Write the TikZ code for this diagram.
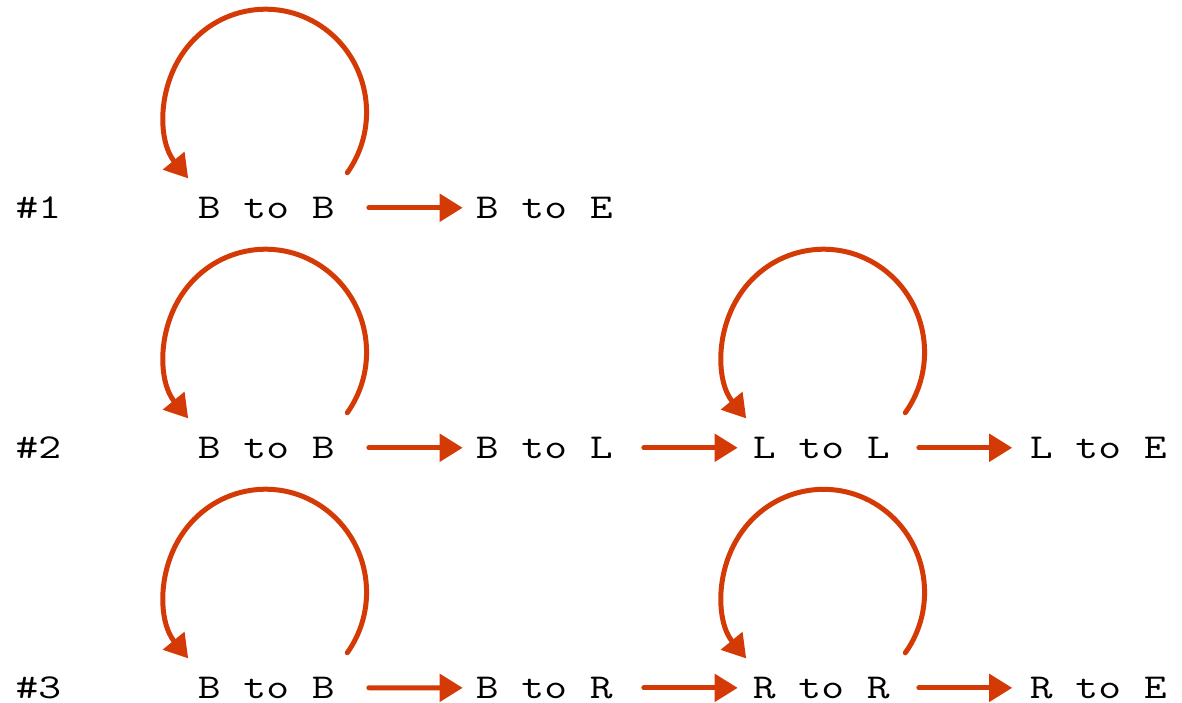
\documentclass[tikz,border=0pt]{standalone}
\usepackage{fontspec}
\usepackage{graphicx}
\usetikzlibrary{arrows.meta}
\definecolor{flow}{RGB}{212,58,6}
% wide typewriter face for the state labels
\newcommand{\statetext}[1]{\scalebox{1.268}[1]{\ttfamily\fontsize{34.9}{36}\selectfont #1}}
\begin{document}
\begin{tikzpicture}[x=1pt,y=-1pt,
  state/.style={inner sep=0pt, anchor=base west},
  tag/.style={state},
  harrow/.style={draw=flow, line width=5pt, line cap=round,
    -{Triangle[length=23pt,width=27pt]}},
  selfloop/.style={draw=flow, line width=5pt, line cap=round,
    -{Triangle[length=23pt,width=27pt]}}
]
\useasboundingbox (0,0) rectangle (1182,702);

% row labels
\node[tag] (h1) at (15.5,218.3) {\statetext{\#1}};
\node[tag] (h2) at (15.5,458.3) {\statetext{\#2}};
\node[tag] (h3) at (15.5,698.3) {\statetext{\#3}};

% row 1
\node[state] (a1) at (197.7,218.3) {\statetext{B to B}};
\node[state] (a2) at (475.7,218.3) {\statetext{B to E}};
% row 2
\node[state] (b1) at (197.7,458.3) {\statetext{B to B}};
\node[state] (b2) at (475.7,458.3) {\statetext{B to L}};
\node[state] (b3) at (752.7,458.3) {\statetext{L to L}};
\node[state] (b4) at (1029.7,458.3) {\statetext{L to E}};
% row 3
\node[state] (c1) at (197.7,698.3) {\statetext{B to B}};
\node[state] (c2) at (475.7,698.3) {\statetext{B to R}};
\node[state] (c3) at (752.7,698.3) {\statetext{R to R}};
\node[state] (c4) at (1029.7,698.3) {\statetext{R to E}};

% transitions
\draw[harrow, shorten <=34pt, shorten >=13pt] (a1.east) -- (a2.west);
\draw[harrow, shorten <=34pt, shorten >=13pt] (b1.east) -- (b2.west);
\draw[harrow, shorten <=31pt, shorten >=15pt] (b2.east) -- (b3.west);
\draw[harrow, shorten <=29pt, shorten >=17.5pt] (b3.east) -- (b4.west);
\draw[harrow, shorten <=34pt, shorten >=13pt] (c1.east) -- (c2.west);
\draw[harrow, shorten <=31pt, shorten >=15pt] (c2.east) -- (c3.west);
\draw[harrow, shorten <=29pt, shorten >=17.5pt] (c3.east) -- (c4.west);

% self transitions
\foreach \n in {a1,b1,c1}
  \draw[selfloop] ([xshift=81pt,yshift=35pt]\n.center)
    arc[start angle=-36, end angle=220, x radius=101pt, y radius=103pt];
\foreach \n in {b3,c3}
  \draw[selfloop] ([xshift=84pt,yshift=35pt]\n.center)
    arc[start angle=-36, end angle=220, x radius=101pt, y radius=103pt];
\end{tikzpicture}
\end{document}
